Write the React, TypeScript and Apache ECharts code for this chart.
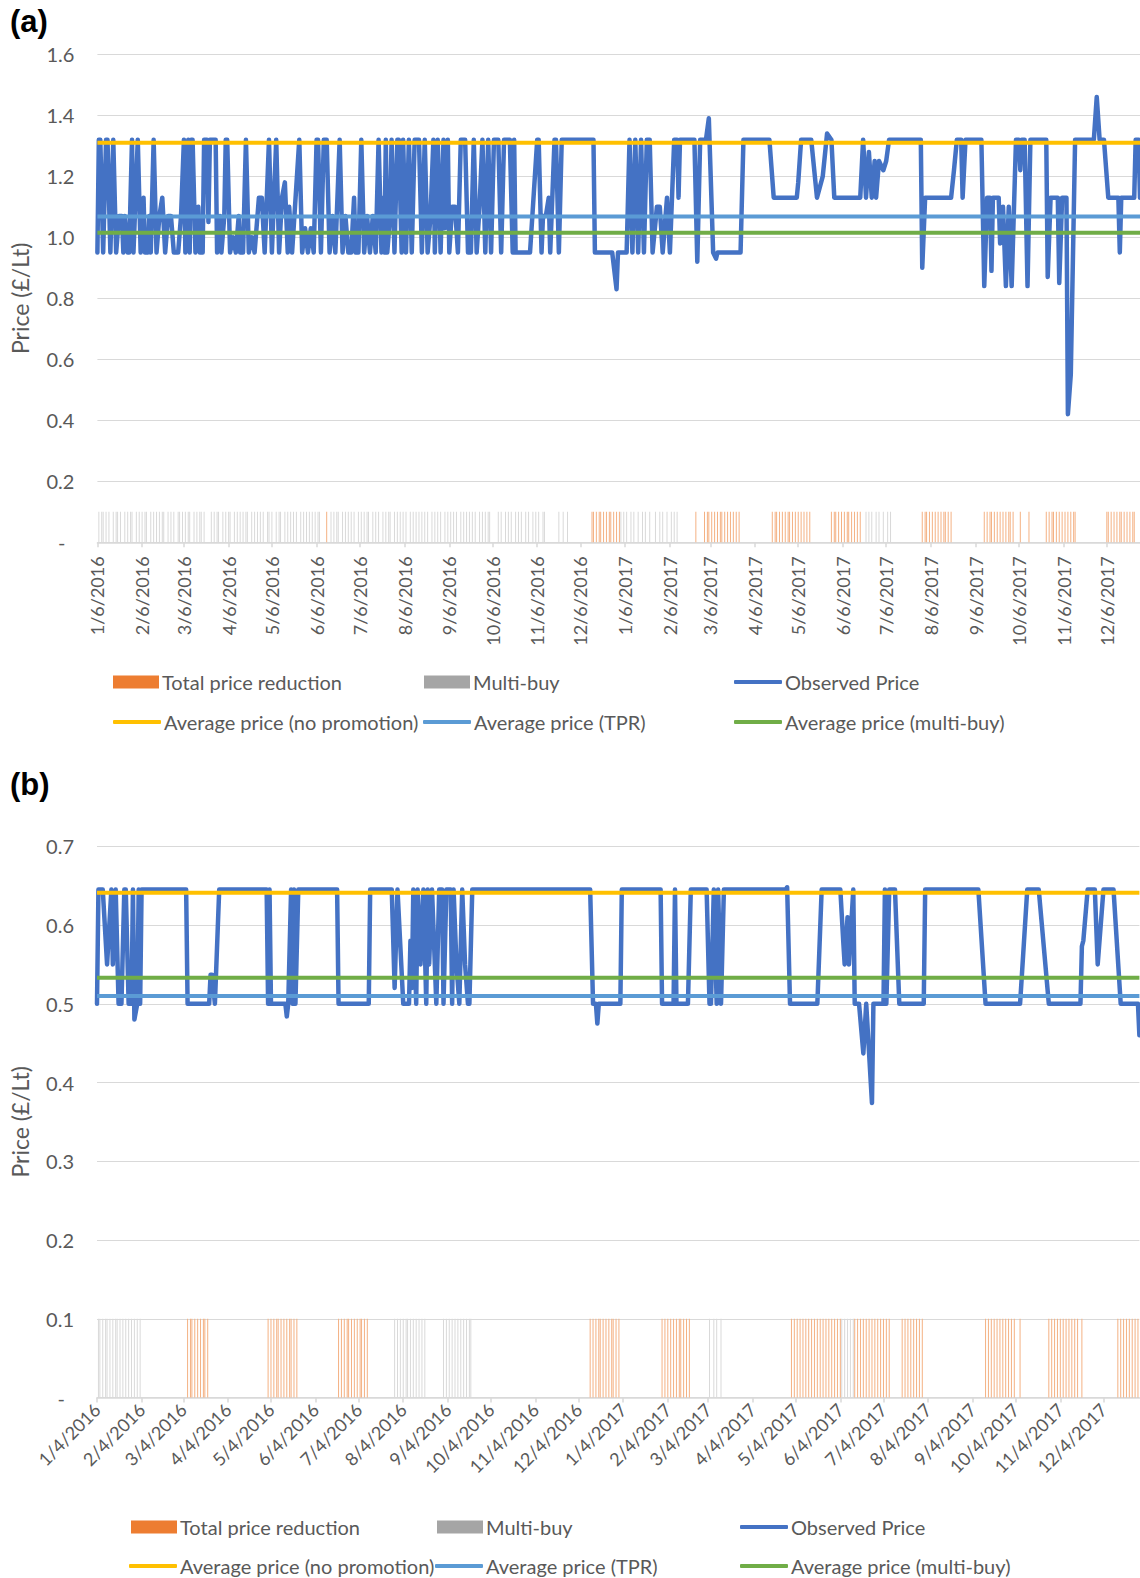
import React, { useEffect, useRef } from 'react';
import * as echarts from 'echarts';

const FONT = 'Lato, "Noto Sans", sans-serif';
const TEXT = '#595959';
const GRIDC = '#D9D9D9';

// ---------- Panel (a) ----------
const aStart = { y: 2016, m: 1, d: 6 };
const aDayCount = 724;
const aYMax = 1.6;
const aYStep = 0.2;
const aDay = [0,1,2,4,6,7,9,11,13,15,17,18,19,21,22,24,25,28,30,32,33,35,36,37,39,41,43,45,47,49,51,53,56,58,60,61,63,64,65,66,68,70,71,73,74,76,77,78,82,83,85,86,88,89,90,92,94,96,98,99,101,103,105,107,109,112,114,116,119,121,124,126,128,130,132,133,135,140,142,144,146,148,150,152,153,155,157,159,161,163,165,168,170,172,174,176,178,179,181,183,185,187,189,191,193,195,197,198,199,200,201,203,204,206,208,209,211,212,214,216,218,220,223,225,227,229,231,233,234,236,238,240,241,243,244,246,248,250,252,255,257,259,261,263,265,267,269,271,273,275,278,280,282,286,288,289,290,300,305,306,308,309,311,313,314,317,318,320,322,344,345,357,360,361,367,369,371,373,375,377,379,381,383,385,388,390,392,395,397,400,402,403,404,414,416,418,422,424,427,429,430,446,448,466,469,485,486,488,495,499,503,506,509,511,529,531,533,535,537,539,540,542,545,547,549,571,572,574,592,594,596,599,600,602,613,615,617,619,620,621,625,626,628,630,632,634,637,639,640,641,643,645,647,658,659,661,666,667,669,672,673,675,678,691,693,695,698,701,708,709,710,719,720,722,723];
const aPrice = [0.95,1.32,1.32,0.95,1.32,1.32,0.95,1.32,0.95,1.07,1.07,0.95,1.07,0.95,0.95,1.32,0.95,1.32,0.95,1.13,0.95,0.95,1.07,0.95,1.32,0.95,1.07,1.13,0.95,1.07,1.07,0.95,0.95,1.07,1.32,0.95,1.32,0.95,1.32,1.32,0.95,1.1,0.95,0.95,1.32,1.32,1.05,1.32,1.32,0.95,1.07,0.95,1.07,1.32,1.32,0.95,1.0,0.95,1.07,0.95,0.95,1.32,0.95,1.0,0.95,1.13,1.13,0.95,1.32,0.95,1.32,0.95,1.13,1.18,0.95,1.1,0.95,1.32,0.95,1.03,0.95,1.03,0.95,1.32,1.32,0.95,1.32,1.32,0.95,1.07,0.95,1.32,0.95,1.07,0.95,0.95,1.13,0.95,0.95,1.32,0.95,1.07,0.95,1.07,0.95,1.32,0.95,1.13,0.95,1.32,0.95,1.07,1.32,0.95,1.32,1.32,0.95,1.32,0.95,1.32,0.95,1.32,1.32,0.95,1.32,0.95,1.07,1.32,0.95,1.32,0.95,1.32,1.03,1.32,0.95,1.1,1.1,0.95,1.32,1.32,0.95,0.95,1.32,0.95,1.1,1.32,0.95,1.32,0.95,1.32,1.32,0.95,1.32,1.32,0.95,1.32,0.95,0.95,1.32,1.32,0.95,1.07,1.07,1.13,0.95,1.32,1.32,0.95,1.32,1.32,0.95,0.95,0.83,0.95,0.95,1.32,0.95,1.32,0.95,1.32,0.95,1.32,1.32,0.95,1.1,1.1,0.95,1.13,0.95,1.32,1.32,1.13,1.32,1.32,0.92,1.32,1.32,1.39,0.95,0.93,0.95,0.95,1.32,1.32,1.13,1.13,1.18,1.32,1.32,1.13,1.2,1.34,1.32,1.13,1.13,1.32,1.13,1.28,1.13,1.25,1.13,1.25,1.22,1.25,1.32,1.32,0.9,1.13,1.13,1.22,1.32,1.32,1.13,1.32,1.32,0.84,1.13,1.13,0.89,1.13,1.13,0.98,1.1,0.84,1.1,0.84,1.32,1.32,1.22,1.32,1.32,0.84,1.32,1.32,0.87,1.13,1.13,0.85,1.13,1.13,0.42,0.55,1.32,1.32,1.46,1.32,1.32,1.13,1.13,0.95,1.13,1.13,1.32,1.32,1.13];
const aAvgNoPromo = 1.31;
const aAvgTpr = 1.068;
const aAvgMultiBuy = 1.015;
const aTprDays = [159,343,344,346,348,349,351,353,355,356,358,360,362,415,421,423,424,426,428,430,432,433,435,437,439,441,443,445,468,470,471,473,475,477,479,480,482,484,486,488,490,492,494,509,511,512,514,516,518,520,521,523,525,527,529,572,574,575,577,579,581,583,585,587,588,590,592,615,617,619,620,622,624,626,628,630,632,633,635,640,646,658,660,662,663,665,667,669,671,673,675,677,678,700,701,703,705,707,709,710,712,714,716,718,719];
const aMultiBuyDays = [1,3,4,6,8,11,13,14,16,19,21,23,24,27,29,31,33,34,37,39,41,43,45,46,49,51,53,56,57,59,61,63,64,67,69,71,72,74,79,81,83,84,87,89,91,92,95,97,99,101,103,104,107,109,111,113,115,118,119,121,124,126,127,130,132,134,136,138,141,143,145,147,149,151,153,154,162,164,166,167,170,172,174,176,178,181,183,185,187,188,191,193,195,198,200,202,203,206,208,210,212,214,217,219,221,223,225,227,229,232,234,236,238,241,243,245,247,249,252,254,256,258,260,262,265,267,269,271,272,278,280,283,285,287,290,292,294,297,299,302,304,306,309,310,320,323,326,363,365,367,370,372,375,378,380,383,387,390,392,395,398,400,402,533,535,537,540,542,545,548,550];

// ---------- Panel (b) ----------
const bStart = { y: 2016, m: 1, d: 4 };
const bDayCount = 726;
const bYMax = 0.7;
const bYStep = 0.1;
const bDay = [0,1,4,7,10,11,13,15,17,19,20,22,24,25,26,28,29,30,31,62,63,78,79,80,82,85,118,119,120,121,131,132,133,135,136,137,138,140,167,168,189,190,205,207,209,213,217,218,219,220,222,223,225,227,229,230,231,233,236,238,240,241,243,246,247,248,250,252,254,256,258,259,261,343,345,347,348,349,364,365,392,393,401,402,403,411,413,424,426,427,429,431,432,434,436,479,480,482,501,504,517,519,520,522,523,526,527,530,533,535,539,540,547,548,549,551,555,558,575,576,613,618,642,647,655,662,684,685,686,689,694,696,700,707,712,724,725];
const bPrice = [0.5,0.645,0.645,0.55,0.645,0.55,0.645,0.5,0.5,0.645,0.645,0.5,0.5,0.645,0.48,0.5,0.645,0.5,0.645,0.645,0.5,0.5,0.537,0.537,0.5,0.645,0.645,0.5,0.645,0.5,0.5,0.484,0.5,0.645,0.5,0.645,0.5,0.645,0.645,0.5,0.5,0.645,0.645,0.52,0.645,0.5,0.5,0.58,0.52,0.645,0.5,0.645,0.55,0.645,0.5,0.645,0.55,0.645,0.5,0.645,0.645,0.5,0.645,0.645,0.5,0.645,0.55,0.5,0.645,0.55,0.5,0.5,0.645,0.645,0.5,0.5,0.475,0.5,0.5,0.645,0.645,0.5,0.5,0.645,0.5,0.5,0.645,0.645,0.5,0.5,0.645,0.5,0.645,0.5,0.645,0.645,0.648,0.5,0.5,0.645,0.645,0.58,0.55,0.61,0.55,0.645,0.5,0.5,0.437,0.5,0.374,0.5,0.5,0.645,0.5,0.645,0.645,0.5,0.5,0.645,0.645,0.5,0.5,0.645,0.645,0.5,0.5,0.573,0.58,0.645,0.645,0.55,0.645,0.645,0.5,0.5,0.46];
const bAvgNoPromo = 0.641;
const bAvgTpr = 0.51;
const bAvgMultiBuy = 0.533;
const bTprDays = [63,65,66,68,70,72,74,75,77,119,121,123,125,126,128,130,132,134,135,137,139,168,170,172,174,175,177,179,181,183,184,186,188,343,345,347,349,350,352,354,356,358,359,361,363,393,395,397,399,401,403,405,406,408,410,412,483,485,487,489,491,493,495,497,499,501,503,505,507,509,511,513,515,517,527,529,531,533,535,537,539,541,543,545,547,549,551,560,562,564,566,568,570,572,574,618,620,622,624,626,628,630,632,634,636,638,642,662,664,666,668,670,672,674,676,678,680,682,685,710,712,714,716,718,720,722,724];
const bMultiBuyDays = [1,2,4,6,7,9,11,13,14,16,18,20,22,24,26,28,30,207,209,211,213,215,216,218,220,222,224,226,228,241,243,245,247,249,251,253,255,257,259,260,426,429,431,434,518,520,522,524,526];

const promoBarLevel = 0.1;

const C_TPR = '#ED7D31';
const C_TPR_BAR = '#F4B183';
const C_MB = '#A5A5A5';
const C_MB_BAR = '#D9D9D9';
const C_OBS = '#4472C4';
const C_NOPROMO = '#FFC000';
const C_AVGTPR = '#5B9BD5';
const C_AVGMB = '#70AD47';

const LABEL_SIZE = 20;
const XLABEL_SIZE = 18;
const LEGEND_SIZE = 20;
const NAME_SIZE = 23;

function buildDays(s: { y: number; m: number; d: number }, n: number): string[] {
  const out: string[] = [];
  for (let i = 0; i < n; i++) {
    const dt = new Date(s.y, s.m - 1, s.d + i);
    out.push(`${dt.getMonth() + 1}/${dt.getDate()}/${dt.getFullYear()}`);
  }
  return out;
}

function zip(xs: number[], ys: number[]) {
  return xs.map((x, i) => [x, ys[i]]);
}

function yLabel(v: number) {
  if (Math.abs(v) < 1e-9) return '{z|-}';
  return v.toFixed(1);
}

function buildOption() {
  const aCats = buildDays(aStart, aDayCount);
  const bCats = buildDays(bStart, bDayCount);
  const aTick = (_i: number, v: string) => v.split('/')[1] === String(aStart.d);
  const bTick = (_i: number, v: string) => v.split('/')[1] === String(bStart.d);

  const xAxisBase = (cats: string[], fn: any, gridIndex: number, rotate: number, margin: number) => ({
    gridIndex,
    type: 'category',
    data: cats,
    boundaryGap: false,
    axisLine: { lineStyle: { color: GRIDC, width: 1.5 } },
    axisTick: { show: true, interval: fn, length: 5, lineStyle: { color: GRIDC, width: 1.5 } },
    axisLabel: { interval: fn, rotate, margin, color: TEXT, fontSize: XLABEL_SIZE, fontFamily: FONT },
    splitLine: { show: false },
  });

  const yAxisBase = (gridIndex: number, max: number, step: number, margin: number) => ({
    gridIndex,
    type: 'value',
    min: 0,
    max,
    interval: step,
    axisLine: { show: false },
    axisTick: { show: false },
    splitLine: { show: true, lineStyle: { color: GRIDC, width: 1 } },
    axisLabel: {
      formatter: yLabel,
      color: TEXT,
      fontSize: LABEL_SIZE,
      fontFamily: FONT,
      margin,
      rich: { z: { color: TEXT, fontSize: LABEL_SIZE, fontFamily: FONT, padding: [0, 9, 0, 0] } },
    },
    name: 'Price (£/Lt)',
    nameLocation: 'middle',
    nameGap: 66,
    nameTextStyle: { color: TEXT, fontSize: NAME_SIZE, fontFamily: FONT },
  });

  const panelSeries = (
    idx: number,
    lastDay: number,
    tprDays: number[],
    mbDays: number[],
    days: number[],
    prices: number[],
    avgNo: number,
    avgTpr: number,
    avgMb: number
  ) => [
    {
      name: 'Total price reduction',
      type: 'bar',
      xAxisIndex: idx,
      yAxisIndex: idx,
      barWidth: 1,
      barGap: '-100%',
      itemStyle: { color: C_TPR_BAR },
      data: tprDays.map((d) => [d, promoBarLevel]),
      z: 1,
    },
    {
      name: 'Multi-buy',
      type: 'bar',
      xAxisIndex: idx,
      yAxisIndex: idx,
      barWidth: 1,
      barGap: '-100%',
      itemStyle: { color: C_MB_BAR },
      data: mbDays.map((d) => [d, promoBarLevel]),
      z: 1,
    },
    {
      name: 'Observed Price',
      type: 'line',
      xAxisIndex: idx,
      yAxisIndex: idx,
      symbol: 'none',
      showSymbol: false,
      color: C_OBS,
      lineStyle: { color: C_OBS, width: 4.5, cap: 'round', join: 'round' },
      data: zip(days, prices),
      z: 3,
    },
    ...[
      ['Average price (no promotion)', avgNo, C_NOPROMO],
      ['Average price (TPR)', avgTpr, C_AVGTPR],
      ['Average price (multi-buy)', avgMb, C_AVGMB],
    ].map(([name, v, c]) => ({
      name,
      type: 'line',
      xAxisIndex: idx,
      yAxisIndex: idx,
      symbol: 'none',
      showSymbol: false,
      color: c,
      lineStyle: { color: c, width: 4 },
      data: [
        [0, v],
        [lastDay, v],
      ],
      z: 4,
    })),
  ];

  const leg = (name: string, left: number, cy: number, kind: 'rect' | 'line', color: string) => ({
    data: [{ name, icon: kind === 'rect' ? 'rect' : 'roundRect', itemStyle: { color, opacity: 1 } }],
    left,
    top: cy - 12,
    padding: 0,
    itemWidth: kind === 'rect' ? 46 : 48,
    itemHeight: kind === 'rect' ? 13 : 4,
    selectedMode: false,
    textStyle: { color: TEXT, fontSize: LEGEND_SIZE, fontFamily: FONT, padding: [0, 0, 0, -2] },
  });

  const legends = [
    leg('Total price reduction', 113, 684, 'rect', C_TPR),
    leg('Multi-buy', 424, 684, 'rect', C_MB),
    leg('Observed Price', 734, 684, 'line', C_OBS),
    leg('Average price (no promotion)', 113, 724, 'line', C_NOPROMO),
    leg('Average price (TPR)', 423, 724, 'line', C_AVGTPR),
    leg('Average price (multi-buy)', 734, 724, 'line', C_AVGMB),
    leg('Total price reduction', 131, 1529, 'rect', C_TPR),
    leg('Multi-buy', 437, 1529, 'rect', C_MB),
    leg('Observed Price', 740, 1529, 'line', C_OBS),
    leg('Average price (no promotion)', 129, 1568, 'line', C_NOPROMO),
    leg('Average price (TPR)', 435, 1568, 'line', C_AVGTPR),
    leg('Average price (multi-buy)', 740, 1568, 'line', C_AVGMB),
  ];

  const titleStyle = { fontSize: 31, fontWeight: 'bold', color: '#000', fontFamily: '"Liberation Sans", Arial, sans-serif' };

  return {
    animation: false,
    backgroundColor: '#ffffff',
    title: [
      { text: '(a)', left: 5, top: 1, textStyle: titleStyle },
      { text: '(b)', left: 5, top: 764, textStyle: titleStyle },
    ],
    legend: legends,
    grid: [
      { left: 97.4, top: 54.3, width: 1042.6, height: 488 },
      { left: 96.1, top: 846.3, width: 1043.3, height: 551.2 },
    ],
    xAxis: [xAxisBase(aCats, aTick, 0, 90, 14), xAxisBase(bCats, bTick, 1, 45, 9)],
    yAxis: [yAxisBase(0, aYMax, aYStep, 23), yAxisBase(1, bYMax, bYStep, 23)],
    series: [
      ...panelSeries(0, aDayCount - 1, aTprDays, aMultiBuyDays, aDay, aPrice, aAvgNoPromo, aAvgTpr, aAvgMultiBuy),
      ...panelSeries(1, bDayCount - 1, bTprDays, bMultiBuyDays, bDay, bPrice, bAvgNoPromo, bAvgTpr, bAvgMultiBuy),
    ],
  };
}

export default function App() {
  const ref = useRef<HTMLDivElement>(null);
  useEffect(() => {
    if (!ref.current) return;
    const chart = echarts.init(ref.current, null, { renderer: 'svg' });
    chart.setOption(buildOption() as any);
    return () => chart.dispose();
  }, []);
  return (
    <div
      ref={ref}
      style={{ position: 'absolute', left: 0, top: 0, width: 1140, height: 1578, background: '#fff' }}
    />
  );
}
